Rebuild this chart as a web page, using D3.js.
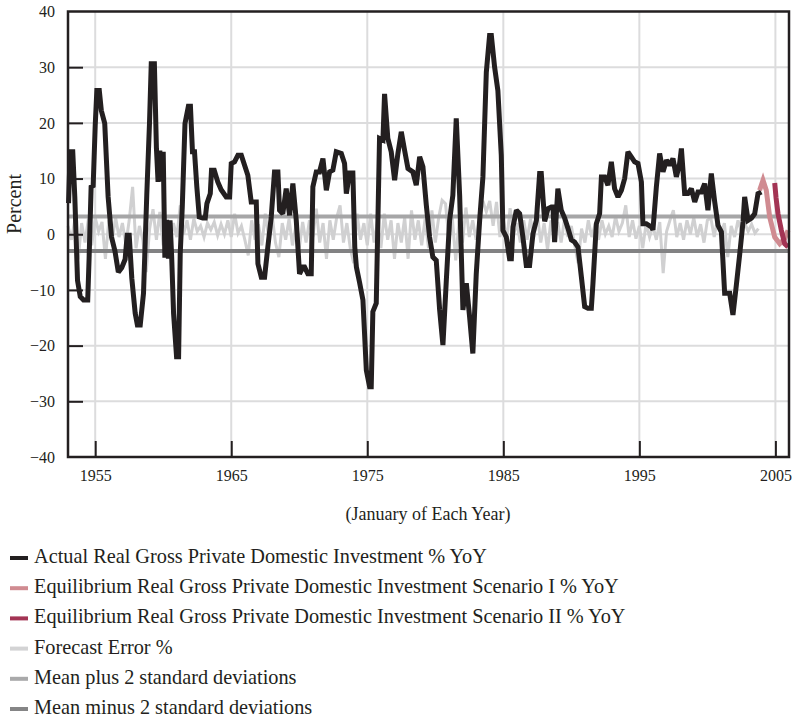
<!DOCTYPE html>
<html>
<head>
<meta charset="utf-8">
<script src="https://cdn.jsdelivr.net/npm/d3@7"></script>
<style>
  html, body { margin: 0; padding: 0; background: #fff; }
  svg { display: block; font-family: "Liberation Serif", "DejaVu Serif", serif; }
</style>
</head>
<body>
<svg id="chart" width="797" height="718"></svg>
<script>
// actual real GPDI % YoY, [year, value]
const actual = [
  [1953.04,5.6],[1953.16,14.8],[1953.35,14.8],[1953.5,6.7],[1953.7,-8.3],[1953.9,-11.2],[1954.14,-11.8],[1954.45,-11.8],
  [1954.55,-4.4],[1954.7,8.5],[1954.85,8.7],[1955.0,19.5],[1955.12,25.8],[1955.3,25.8],[1955.45,22.2],[1955.7,19.9],
  [1955.95,6.7],[1956.2,-0.5],[1956.45,-3.0],[1956.7,-6.8],[1956.95,-6.0],[1957.2,-4.5],[1957.35,-0.2],[1957.5,-0.2],
  [1957.69,-7.9],[1957.94,-14.2],[1958.1,-16.3],[1958.31,-16.3],[1958.55,-10.6],[1958.79,7.0],[1958.99,19.9],[1959.12,30.6],
  [1959.35,30.6],[1959.5,15.4],[1959.62,9.4],[1959.75,15.0],[1959.87,9.5],[1960.0,14.8],[1960.12,-4.2],[1960.25,2.6],
  [1960.38,-4.4],[1960.5,2.5],[1960.62,-4.0],[1960.76,-14.2],[1960.98,-22.0],[1961.13,-22.0],[1961.25,-3.5],[1961.4,4.9],
  [1961.6,19.9],[1961.85,23.0],[1962.0,23.0],[1962.15,14.8],[1962.3,14.8],[1962.47,8.5],[1962.65,3.1],[1962.9,2.9],
  [1963.09,2.9],[1963.21,5.5],[1963.46,7.3],[1963.55,11.5],[1963.75,11.5],[1964.01,9.4],[1964.26,8.0],[1964.63,6.7],
  [1964.88,6.7],[1965.0,12.7],[1965.24,13.0],[1965.49,14.2],[1965.74,14.2],[1965.98,12.4],[1966.22,10.6],[1966.47,5.8],
  [1966.84,5.8],[1966.96,-5.3],[1967.21,-7.7],[1967.45,-7.7],[1967.69,-2.3],[1967.94,3.1],[1968.18,11.2],[1968.43,11.2],
  [1968.55,4.3],[1968.79,3.7],[1969.04,8.2],[1969.29,3.4],[1969.53,9.1],[1969.78,2.5],[1970.02,-7.1],[1970.26,-5.9],
  [1970.39,-5.9],[1970.63,-7.1],[1970.88,-7.1],[1971.0,8.5],[1971.25,11.2],[1971.49,11.2],[1971.74,13.6],[1971.99,7.9],
  [1972.23,11.2],[1972.47,11.5],[1972.72,14.8],[1973.09,14.5],[1973.33,12.7],[1973.46,7.3],[1973.7,11.0],[1973.94,11.0],
  [1974.08,-2.3],[1974.2,-5.9],[1974.43,-8.6],[1974.68,-11.8],[1974.93,-24.4],[1975.17,-27.4],[1975.29,-27.4],[1975.41,-13.9],
  [1975.66,-12.4],[1975.9,17.2],[1976.15,16.9],[1976.27,25.2],[1976.51,17.2],[1976.76,14.8],[1977.01,9.7],[1977.25,14.5],
  [1977.5,18.4],[1977.74,15.1],[1977.99,11.8],[1978.35,11.2],[1978.6,8.8],[1978.85,13.9],[1979.09,12.1],[1979.34,5.2],
  [1979.58,-0.5],[1979.82,-4.1],[1980.07,-4.7],[1980.32,-13.6],[1980.56,-19.9],[1980.81,-8.3],[1981.05,2.5],[1981.29,7.0],
  [1981.54,20.8],[1981.79,7.0],[1982.03,-13.6],[1982.28,-8.8],[1982.52,-14.8],[1982.76,-21.4],[1983.01,-7.1],[1983.26,2.5],
  [1983.5,10.3],[1983.75,29.1],[1983.99,35.7],[1984.12,35.7],[1984.36,30.0],[1984.6,25.8],[1984.85,14.2],[1984.97,0.7],
  [1985.22,-0.5],[1985.46,-4.4],[1985.59,-4.4],[1985.71,1.3],[1985.96,4.3],[1986.2,3.7],[1986.44,-0.5],[1986.69,-5.6],
  [1986.93,-5.6],[1987.18,0.1],[1987.43,2.5],[1987.67,10.9],[1987.79,10.9],[1988.04,2.3],[1988.28,4.6],[1988.53,4.9],
  [1988.65,4.9],[1988.77,-1.4],[1989.01,8.2],[1989.26,4.3],[1989.51,2.9],[1989.75,1.1],[1990.0,-1.0],[1990.24,-1.4],
  [1990.49,-2.3],[1990.74,-7.7],[1990.98,-13.0],[1991.22,-13.3],[1991.47,-13.3],[1991.59,-8.8],[1991.84,1.9],[1992.08,3.7],
  [1992.21,10.3],[1992.45,10.3],[1992.69,8.8],[1992.94,13.0],[1993.18,8.2],[1993.43,6.7],[1993.68,7.9],[1993.92,10.0],
  [1994.16,14.8],[1994.41,13.9],[1994.65,13.0],[1994.9,12.7],[1995.15,9.4],[1995.26,1.9],[1995.51,1.9],[1995.88,1.3],
  [1996.0,0.8],[1996.25,8.5],[1996.49,14.5],[1996.74,11.2],[1996.99,13.3],[1997.23,12.4],[1997.47,13.6],[1997.72,10.3],
  [1997.96,12.7],[1998.09,15.4],[1998.33,7.3],[1998.57,7.3],[1998.82,8.2],[1999.07,5.8],[1999.31,7.6],[1999.56,7.6],
  [1999.8,9.1],[2000.04,4.3],[2000.29,10.9],[2000.54,5.8],[2000.78,1.6],[2001.03,0.4],[2001.27,-10.6],[2001.64,-10.6],
  [2001.88,-14.5],[2002.13,-9.1],[2002.38,-3.5],[2002.62,2.2],[2002.74,6.7],[2002.99,2.5],[2003.24,2.9],[2003.48,3.7],
  [2003.72,7.3],[2003.97,7.6]
];

const scenario1 = [
  [2003.84,7.9],[2004.09,9.7],[2004.33,7.9],[2004.58,3.1],[2004.95,-0.5],[2005.32,-1.7],[2005.68,-0.8],[2005.93,0.7]
];

const scenario2 = [
  [2004.95,9.2],[2005.05,6.5],[2005.19,3.7],[2005.44,0.7],[2005.68,-1.7],[2005.93,-2.3]
];

// forecast error %, quarterly from 1953 Q1
const errorStart = 1953;
const forecastError = [
  1.5,-1.0,2.5,-4.5,  2.0,-1.5,2.8,-2.0,  3.0,0.5,2.2,-4.4,  2.5,-1.0,3.0,-0.5,
  2.0,-1.8,2.5,8.5,  -2.5,1.5,-1.0,-6.8,  1.0,4.5,-1.0,4.0,  -2.0,2.5,-1.5,2.0,
  -0.5,5.2,0.0,2.5,  -1.0,2.8,0.5,1.5,  -0.5,2.0,0.8,2.2,  -0.2,1.8,0.0,2.5,
  -0.5,3.7,0.2,1.5,  -1.0,-3.8,2.5,-1.0,  1.8,-2.0,3.7,-0.5,  3.5,-1.5,-4.1,2.0,
  -1.0,2.8,-2.0,1.5,  -2.5,2.2,-1.5,2.5,  -0.5,4.6,-1.5,2.0,  -4.4,2.5,-1.0,3.0,
  5.2,-1.5,2.0,-2.5,  -5.2,3.7,-1.0,2.0,  -2.0,3.7,-1.5,2.2,  -2.5,3.7,-1.0,2.5,
  -4.4,2.0,-1.5,3.0,  -4.4,4.3,-1.0,2.5,  -2.0,2.8,-2.5,4.3,  -1.5,3.0,6.1,5.5,
  -1.0,3.0,-4.7,2.5,  -1.5,4.8,-0.5,2.5,  -1.0,3.0,6.0,4.0,  6.0,1.5,5.8,-0.5,
  2.5,-1.0,4.7,0.0,  2.0,-1.5,2.5,-1.0,  2.8,-0.5,3.7,-1.5,  2.0,-2.8,2.5,-1.0,
  2.2,-1.5,2.8,-0.5,  1.5,-2.0,-5.2,1.0,  -1.5,2.5,-0.5,1.8,  -1.0,2.5,0.0,1.5,
  -0.5,3.2,0.5,2.0,  5.2,-0.5,2.5,-0.8,  1.5,-2.5,2.0,-0.5,  1.5,-1.0,2.2,-7.0,
  0.5,2.5,4.3,-0.5,  2.0,-1.0,2.5,0.0,  3.0,-0.5,1.8,-1.5,  2.5,3.0,-0.5,2.8,
  0.0,2.0,-4.1,1.5,  -0.5,2.5,0.5,2.0,  0.5,1.8,0.2,1.0
];

const meanPlus2sd = 3.2;
const meanMinus2sd = -3.0;

const xTicks = [1955, 1965, 1975, 1985, 1995, 2005];
const yTicks = [-40, -30, -20, -10, 0, 10, 20, 30, 40];

const legendItems = [
  { label: "Actual Real Gross Private Domestic Investment % YoY", color: "#231f20" },
  { label: "Equilibrium Real Gross Private Domestic Investment Scenario I % YoY", color: "#d08b91" },
  { label: "Equilibrium Real Gross Private Domestic Investment Scenario II % YoY", color: "#a33454" },
  { label: "Forecast Error %", color: "#d3d3d4" },
  { label: "Mean plus 2 standard deviations", color: "#a9a9aa" },
  { label: "Mean minus 2 standard deviations", color: "#858586" }
];

const svg = d3.select("#chart");
const plotLeft = 68, plotRight = 789, plotTop = 11.5, plotBottom = 457;

const x = d3.scaleLinear().domain([1953, 2006]).range([plotLeft, plotRight]);
const y = d3.scaleLinear().domain([-40, 40]).range([plotBottom, plotTop]);

const line = d3.line().x(d => x(d[0])).y(d => y(d[1]));

// grid
svg.append("g")
  .selectAll("line")
  .data(xTicks)
  .join("line")
  .attr("x1", d => x(d)).attr("x2", d => x(d))
  .attr("y1", plotTop).attr("y2", plotBottom)
  .attr("stroke", "#dcdcdd").attr("stroke-width", 2);

svg.append("g")
  .selectAll("line")
  .data(yTicks.filter(d => d > -40 && d < 40))
  .join("line")
  .attr("x1", plotLeft).attr("x2", plotRight)
  .attr("y1", d => y(d)).attr("y2", d => y(d))
  .attr("stroke", "#dcdcdd").attr("stroke-width", 2);

// forecast error
const errorPoints = forecastError.map((v, i) => [errorStart + i / 4, v]);
svg.append("path")
  .datum(errorPoints)
  .attr("d", line)
  .attr("fill", "none")
  .attr("stroke", "#d0d0d1")
  .attr("stroke-width", 3)
  .attr("stroke-linejoin", "miter");

// +/- 2 sd
svg.append("line")
  .attr("x1", plotLeft).attr("x2", plotRight)
  .attr("y1", y(meanPlus2sd)).attr("y2", y(meanPlus2sd))
  .attr("stroke", "#a6a6a7").attr("stroke-width", 4);

svg.append("line")
  .attr("x1", plotLeft).attr("x2", plotRight)
  .attr("y1", y(meanMinus2sd)).attr("y2", y(meanMinus2sd))
  .attr("stroke", "#828283").attr("stroke-width", 4);

// actual
svg.append("path")
  .datum(actual)
  .attr("d", line)
  .attr("fill", "none")
  .attr("stroke", "#231f20")
  .attr("stroke-width", 5)
  .attr("stroke-linejoin", "miter")
  .attr("stroke-miterlimit", 2);

svg.append("path")
  .datum(scenario1)
  .attr("d", line)
  .attr("fill", "none")
  .attr("stroke", "#d08b91")
  .attr("stroke-width", 5);

svg.append("path")
  .datum(scenario2)
  .attr("d", line)
  .attr("fill", "none")
  .attr("stroke", "#a33454")
  .attr("stroke-width", 5);

// axes
const yAxis = svg.append("g")
  .attr("transform", `translate(${plotLeft},0)`)
  .call(d3.axisLeft(y).tickValues(yTicks).tickSize(-15).tickPadding(13).tickFormat(d3.format("d")));

const xAxis = svg.append("g")
  .attr("transform", `translate(0,${plotBottom})`)
  .call(d3.axisBottom(x).tickValues(xTicks).tickSize(-16).tickPadding(13).tickFormat(d3.format("d")));

[yAxis, xAxis].forEach(g => {
  g.select(".domain").remove();
  g.selectAll(".tick line").attr("stroke", "#231f20").attr("stroke-width", 2);
  g.selectAll(".tick text")
    .attr("fill", "#231f20")
    .style("font-family", "'Liberation Serif', serif")
    .style("font-size", "16px");
});
yAxis.selectAll(".tick").filter(d => d === 40 || d === -40).select("line").remove();

svg.append("rect")
  .attr("x", plotLeft).attr("y", plotTop)
  .attr("width", plotRight - plotLeft).attr("height", plotBottom - plotTop)
  .attr("fill", "none")
  .attr("stroke", "#231f20")
  .attr("stroke-width", 2.5);

svg.append("text")
  .attr("transform", `translate(21,204) rotate(-90)`)
  .attr("text-anchor", "middle")
  .attr("fill", "#231f20")
  .style("font-size", "20px")
  .text("Percent");

svg.append("text")
  .attr("x", 428).attr("y", 520)
  .attr("text-anchor", "middle")
  .attr("fill", "#231f20")
  .style("font-size", "18px")
  .text("(January of Each Year)");

// legend
const legend = svg.append("g")
  .selectAll("g")
  .data(legendItems)
  .join("g")
  .attr("transform", (d, i) => `translate(0,${563 + i * 30.2})`);

legend.append("rect")
  .attr("x", 10).attr("y", -7)
  .attr("width", 18).attr("height", 4)
  .attr("fill", d => d.color);

legend.append("text")
  .attr("x", 34).attr("y", 0)
  .attr("fill", "#231f20")
  .style("font-size", "20.3px")
  .text(d => d.label);
</script>
</body>
</html>
